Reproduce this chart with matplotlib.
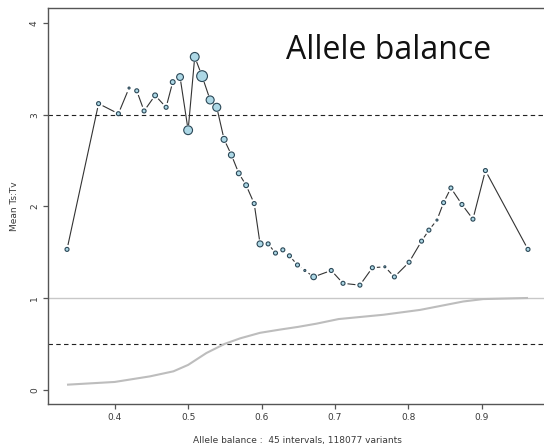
import numpy as np
import matplotlib
matplotlib.use("Agg")
from matplotlib import pyplot as plt
from matplotlib.collections import LineCollection

# Mean Ts:Tv per allele-balance interval
ab_mid = [0.335, 0.378, 0.405, 0.4195, 0.430, 0.440, 0.455, 0.470, 0.479, 0.489,
          0.500, 0.509, 0.519, 0.530, 0.539, 0.549, 0.559, 0.569, 0.579, 0.590,
          0.598, 0.609, 0.619, 0.629, 0.638, 0.649, 0.659, 0.671, 0.695, 0.711,
          0.734, 0.751, 0.768, 0.781, 0.801, 0.818, 0.828, 0.839, 0.848, 0.858,
          0.873, 0.888, 0.905, 0.963]
mean_tstv = [1.53, 3.12, 3.01, 3.29, 3.26, 3.04, 3.21, 3.08, 3.355, 3.41,
             2.83, 3.63, 3.42, 3.16, 3.08, 2.73, 2.56, 2.36, 2.23, 2.03,
             1.59, 1.59, 1.49, 1.525, 1.46, 1.36, 1.30, 1.23, 1.30, 1.16,
             1.14, 1.33, 1.34, 1.23, 1.39, 1.62, 1.74, 1.85, 2.04, 2.20,
             2.02, 1.86, 2.39, 1.53]
# relative point size (number of variants in the interval)
cex = [1.0, 1.0, 1.0, 0.5, 1.0, 1.0, 1.2, 1.0, 1.2, 1.7,
       2.2, 2.2, 2.7, 2.0, 2.0, 1.5, 1.5, 1.2, 1.2, 1.0,
       1.5, 1.0, 1.0, 1.0, 1.0, 1.0, 0.5, 1.4, 1.0, 1.0,
       1.0, 1.0, 0.5, 1.0, 1.0, 1.0, 1.0, 0.5, 1.0, 1.0,
       1.0, 1.0, 1.0, 1.0]

# cumulative fraction of variants
cum_x = [0.335, 0.40, 0.448, 0.48, 0.50, 0.525, 0.55, 0.571, 0.598, 0.625,
         0.65, 0.675, 0.705, 0.766, 0.816, 0.875, 0.902, 0.963]
cum_frac = [0.054, 0.084, 0.145, 0.20, 0.27, 0.40, 0.50, 0.56, 0.62, 0.655,
            0.685, 0.72, 0.77, 0.817, 0.87, 0.962, 0.988, 1.0]

x_ticks = [0.4, 0.5, 0.6, 0.7, 0.8, 0.9]
y_ticks = [0, 1, 2, 3, 4]
n_intervals = 45
n_variants = 118077

fig = plt.figure(figsize=(5.44, 4.48), dpi=100)
# right edge of the frame runs just past the canvas
ax = fig.add_axes([0.0877, 0.0975, 0.9197, 0.884])
ax.set_xlim(0.3087, 0.9903)
ax.set_ylim(-0.16, 4.16)

axis_col = "#555555"
for s in ax.spines.values():
    s.set_color(axis_col)
    s.set_linewidth(1.0)
ax.spines["right"].set_visible(False)
ax.tick_params(colors=axis_col, length=3.3, width=0.9, labelsize=6.5,
               labelcolor="#3a3a3a", pad=3)
ax.set_xticks(x_ticks)
ax.set_xticklabels([f"{v:.1f}" for v in x_ticks])
ax.set_yticks(y_ticks)
ax.set_yticklabels([str(v) for v in y_ticks], rotation=90, va="center")

ax.axhline(3, color="#222222", lw=0.8, ls=(0, (4, 3)))
ax.axhline(0.5, color="#222222", lw=0.8, ls=(0, (4, 3)))
ax.axhline(1, color="#c8c8c8", lw=1.0)

ax.plot(cum_x, cum_frac, color="#bdbdbd", lw=1.5, solid_capstyle="butt")

# points joined by segments that stop short of each point (type="b" look)
base_d = 4.0  # px diameter for cex = 1
radius = [base_d * c / 2 for c in cex]
pix = ax.transData.transform(np.column_stack([ab_mid, mean_tstv]))
segs = []
for i in range(len(pix) - 1):
    p0, p1 = pix[i], pix[i + 1]
    d = np.hypot(*(p1 - p0))
    g0 = max(radius[i] + 0.8, 4.5)
    g1 = max(radius[i + 1] + 0.8, 4.5)
    if d <= g0 + g1:
        continue
    u = (p1 - p0) / d
    a = ax.transData.inverted().transform(p0 + u * g0)
    b = ax.transData.inverted().transform(p1 - u * g1)
    segs.append([a, b])
ax.add_collection(LineCollection(segs, colors="#333333", linewidths=0.8))

sizes = [(base_d * c * 72 / 100) ** 2 for c in cex]
ax.scatter(ab_mid, mean_tstv, s=sizes, c="#add8e6", edgecolors="#2b4756",
           linewidths=0.8, zorder=3)

ax.set_ylabel("Mean Ts:Tv", fontsize=6.5, color="#3a3a3a", labelpad=8)
ax.set_xlabel(f"Allele balance :  {n_intervals} intervals, {n_variants} variants",
              fontsize=6.5, color="#3a3a3a", labelpad=10)

fig.text(389 / 544, 1 - 59 / 448, "Allele balance", fontsize=23,
         family=["Open Sans", "DejaVu Sans"], color="#111111",
         ha="center", va="baseline")

fig.savefig("out.png", dpi=100)
